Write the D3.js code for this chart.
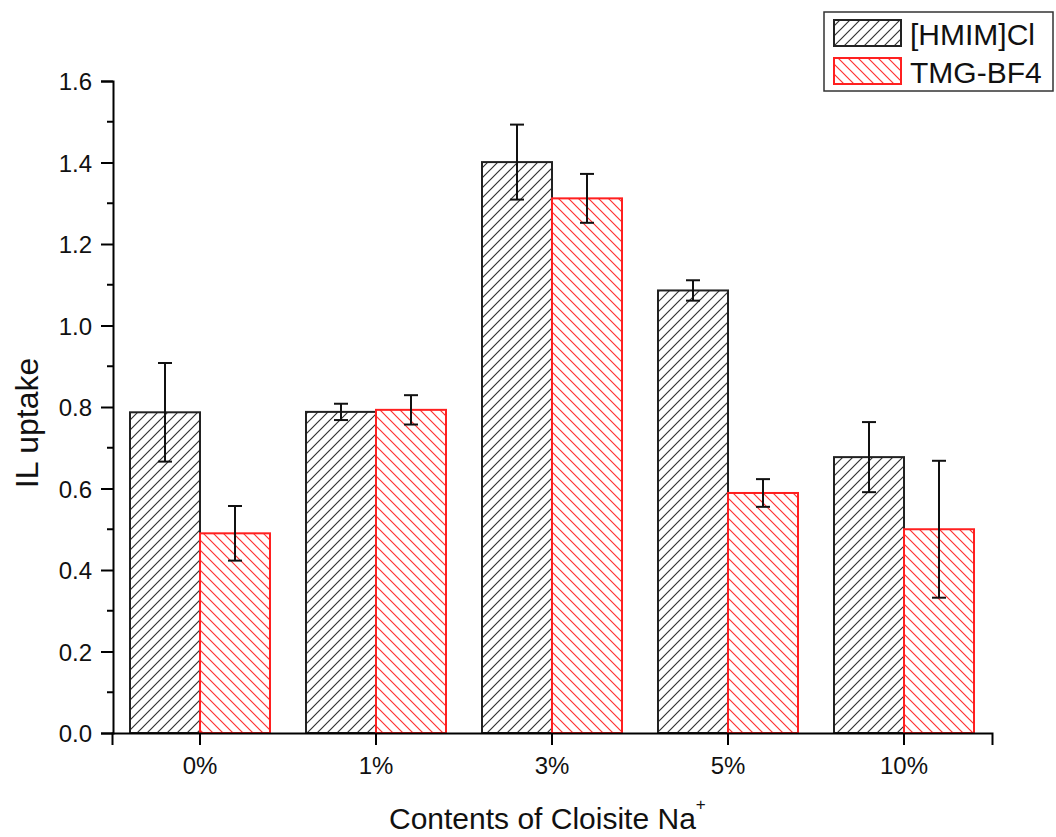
<!DOCTYPE html>
<html lang="en">
<head>
	<meta charset="UTF-8">
	<title>IL uptake</title>
	<style>
		body { margin: 0; background: #fff; }
		text { font-family: "Liberation Sans", Arial, sans-serif; }
	</style>
</head>
<body>
	<script src="https://cdn.jsdelivr.net/npm/d3@7"></script>

	<script type="text/javascript">

		// data
		var categories = ["0%", "1%", "3%", "5%", "10%"];
		var seriesNames = ["[HMIM]Cl", "TMG-BF4"];
		var hmimValues = [0.787, 0.788, 1.401, 1.086, 0.677];
		var hmimErrors = [0.121, 0.020, 0.092, 0.025, 0.086];
		var tmgValues = [0.490, 0.793, 1.312, 0.589, 0.500];
		var tmgErrors = [0.067, 0.036, 0.060, 0.034, 0.168];
		var yTicks = [0, 0.2, 0.4, 0.6, 0.8, 1.0, 1.2, 1.4, 1.6];

		var width = 1056;
		var height = 837;

		var svg = d3.select("body")
					.append("svg")
					.attr("width", width)
					.attr("height", height);

		// hatch patterns
		var defs = svg.append("defs");
		defs.append("pattern")
			.attr("id", "hatchBlack")
			.attr("patternUnits", "userSpaceOnUse")
			.attr("width", 10)
			.attr("height", 10)
			.append("path")
			.attr("d", "M0,10 L10,0 M-2.5,2.5 L2.5,-2.5 M7.5,12.5 L12.5,7.5")
			.attr("stroke", "#333")
			.attr("stroke-width", 1.2);
		defs.append("pattern")
			.attr("id", "hatchRed")
			.attr("patternUnits", "userSpaceOnUse")
			.attr("width", 10)
			.attr("height", 10)
			.append("path")
			.attr("d", "M0,0 L10,10 M-2.5,7.5 L2.5,12.5 M7.5,-2.5 L12.5,2.5")
			.attr("stroke", "#ff3030")
			.attr("stroke-width", 1.2);

		var series = [
			{ name: seriesNames[0], values: hmimValues, errors: hmimErrors, fill: "url(#hatchBlack)", stroke: "#222" },
			{ name: seriesNames[1], values: tmgValues, errors: tmgErrors, fill: "url(#hatchRed)", stroke: "#ff2020" }
		];

		// scales
		var x = d3.scaleBand()
				  .domain(categories)
				  .range([112, 992])
				  .padding(0);
		var xInner = d3.scaleBand()
					   .domain(seriesNames)
					   .range([-70, 70])
					   .padding(0);
		var y = d3.scaleLinear()
				  .domain([0, 1.6])
				  .range([733, 81]);

		// bars
		series.forEach(function(s) {
			var g = svg.append("g");
			g.selectAll("rect")
			 .data(categories)
			 .enter()
			 .append("rect")
			 .attr("x", function(d) { return x(d) + x.bandwidth() / 2 + xInner(s.name); })
			 .attr("y", function(d, i) { return y(s.values[i]); })
			 .attr("width", xInner.bandwidth())
			 .attr("height", function(d, i) { return y(0) - y(s.values[i]); })
			 .attr("fill", s.fill)
			 .attr("stroke", s.stroke)
			 .attr("stroke-width", 2);
		});

		// error bars
		series.forEach(function(s) {
			var g = svg.append("g")
					   .attr("stroke", "#111")
					   .attr("stroke-width", 2);
			categories.forEach(function(c, i) {
				var cx = x(c) + x.bandwidth() / 2 + xInner(s.name) + xInner.bandwidth() / 2;
				var top = y(s.values[i] + s.errors[i]);
				var bot = y(s.values[i] - s.errors[i]);
				g.append("line").attr("x1", cx).attr("x2", cx).attr("y1", top).attr("y2", bot);
				g.append("line").attr("x1", cx - 7).attr("x2", cx + 7).attr("y1", top).attr("y2", top);
				g.append("line").attr("x1", cx - 7).attr("x2", cx + 7).attr("y1", bot).attr("y2", bot);
			});
		});

		// y axis with minor ticks
		var yAxis = d3.axisLeft(y)
					  .tickValues(yTicks)
					  .tickSize(12)
					  .tickPadding(9)
					  .tickFormat(d3.format(".1f"));
		var yAxisG = svg.append("g")
						.attr("transform", "translate(113,0)")
						.call(yAxis);
		var minor = d3.range(0.1, 1.6, 0.2);
		yAxisG.selectAll(".minor")
			  .data(minor)
			  .enter()
			  .append("line")
			  .attr("class", "minor")
			  .attr("x1", -6)
			  .attr("x2", 0)
			  .attr("y1", function(d) { return y(d); })
			  .attr("y2", function(d) { return y(d); })
			  .attr("stroke", "#000")
			  .attr("stroke-width", 2);

		// x axis
		var xAxis = d3.axisBottom(x)
					  .tickSize(12)
					  .tickPadding(12);
		var xAxisG = svg.append("g")
						.attr("transform", "translate(0,733)")
						.call(xAxis);

		[yAxisG, xAxisG].forEach(function(g) {
			g.select(".domain").attr("stroke", "#000").attr("stroke-width", 2);
			g.selectAll(".tick line").attr("stroke", "#000").attr("stroke-width", 2);
			g.selectAll(".tick text")
			 .attr("font-family", "Liberation Sans, Arial, sans-serif")
			 .attr("font-size", "24px")
			 .attr("fill", "#111");
		});
		yAxisG.selectAll(".tick text").attr("dy", "0.36em");

		// axis titles
		svg.append("text")
		   .attr("transform", "translate(38,423) rotate(-90)")
		   .attr("text-anchor", "middle")
		   .attr("font-size", "32px")
		   .attr("fill", "#111")
		   .text("IL uptake");

		var xTitle = svg.append("text")
						.attr("x", 389)
						.attr("y", 829)
						.attr("font-size", "30px")
						.attr("fill", "#111");
		xTitle.append("tspan").text("Contents of Cloisite Na");
		xTitle.append("tspan")
			  .attr("dy", -19)
			  .attr("font-size", "17px")
			  .text("+");

		// legend
		var legend = svg.append("g");
		legend.append("rect")
			  .attr("x", 824)
			  .attr("y", 12)
			  .attr("width", 229)
			  .attr("height", 79)
			  .attr("fill", "#fff")
			  .attr("stroke", "#333")
			  .attr("stroke-width", 1.5);
		series.forEach(function(s, i) {
			legend.append("rect")
				  .attr("x", 834)
				  .attr("y", 20 + i * 38)
				  .attr("width", 67)
				  .attr("height", 26)
				  .attr("fill", s.fill)
				  .attr("stroke", s.stroke)
				  .attr("stroke-width", 2);
			legend.append("text")
				  .attr("x", 910)
				  .attr("y", 45 + i * 38)
				  .attr("font-size", "30px")
				  .attr("fill", "#111")
				  .text(s.name);
		});

	</script>
</body>
</html>
